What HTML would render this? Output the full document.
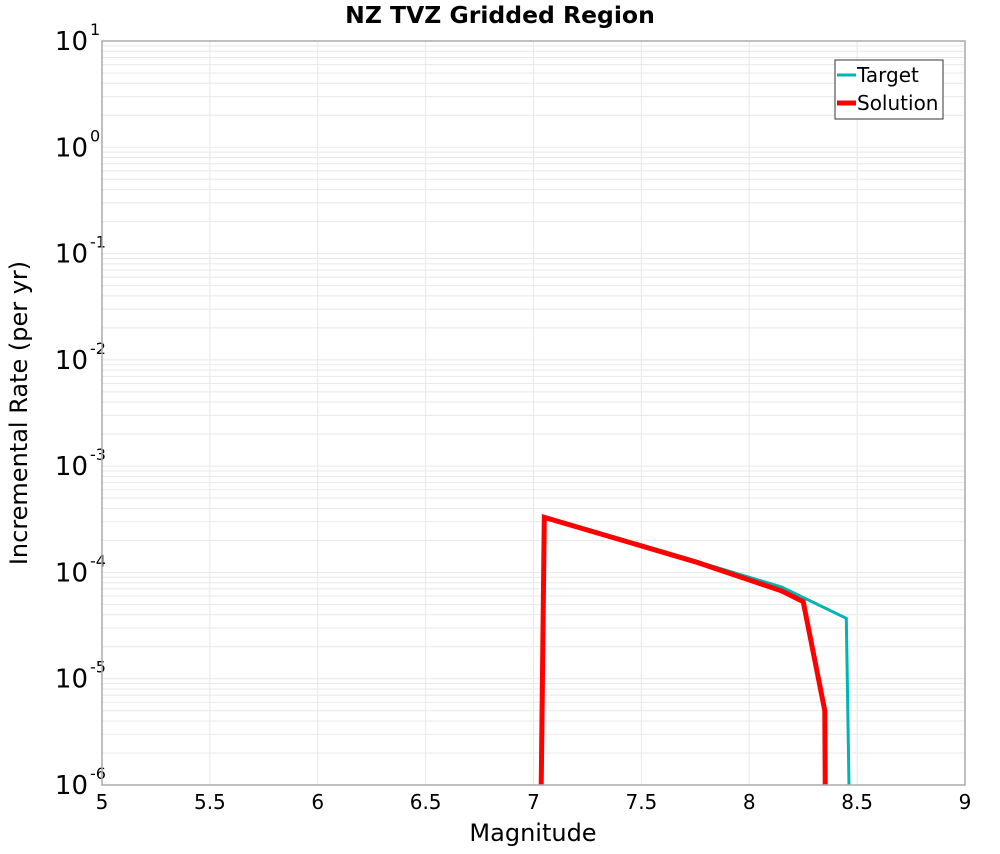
<!DOCTYPE html>
<html><head><meta charset="utf-8"><style>
body{margin:0;background:#fff;font-family:"DejaVu Sans","Liberation Sans",sans-serif}
</style></head><body>
<svg id="chart" width="1000" height="850" xmlns="http://www.w3.org/2000/svg" font-family="DejaVu Sans, Liberation Sans, sans-serif">
<text x="500" y="23" text-anchor="middle" font-size="23.5" font-weight="bold">NZ TVZ Gridded Region</text>
<g id="grid"></g>
<g id="ticks"></g>
<g id="series"></g>
<rect x="102" y="41" width="863" height="744" fill="none" stroke="#aaa" stroke-width="1.5"/>
<text x="533" y="841" text-anchor="middle" font-size="24">Magnitude</text>
<text transform="translate(27,413) rotate(-90)" text-anchor="middle" font-size="24">Incremental Rate (per yr)</text>
<g>
<rect x="835" y="60" width="108" height="59" fill="#fff" stroke="#333" stroke-width="1"/>
<line x1="837" y1="75" x2="856" y2="75" stroke="#00b4b4" stroke-width="3"/>
<text x="857" y="82" font-size="20">Target</text>
<line x1="837" y1="103" x2="856" y2="103" stroke="#ff0000" stroke-width="5"/>
<text x="857" y="110" font-size="20">Solution</text>
</g>
</svg>
<script>
const xTicks=[5,5.5,6,6.5,7,7.5,8,8.5,9];
const yExps=[1,0,-1,-2,-3,-4,-5,-6];
const targetMag=[7.03,7.05,7.75,8.15,8.45,8.47];
const targetRate=[1e-7,3.3e-4,1.28e-4,7.3e-5,3.7e-5,1e-7];
const solutionMag=[7.03,7.05,7.75,8.15,8.25,8.35,8.355];
const solutionRate=[1e-7,3.3e-4,1.26e-4,6.7e-5,5.3e-5,5.0e-6,1e-7];
const X0=102,X1=965,Y0=41,Y1=785;
const sx=m=>X0+(m-5)/(9-5)*(X1-X0);
const sy=v=>Y1-(Math.log10(v)+6)/7*(Y1-Y0);
const NS="http://www.w3.org/2000/svg";
function mk(t,a,p){const e=document.createElementNS(NS,t);for(const k in a)e.setAttribute(k,a[k]);p.appendChild(e);return e;}
const grid=document.getElementById('grid'),ticks=document.getElementById('ticks'),series=document.getElementById('series');
for(let e=-6;e<1;e++)for(let k=1;k<10;k++){const y=sy(k*Math.pow(10,e));
const l=mk('line',{x1:X0,x2:X1,y1:y,y2:y,stroke:'#e8e8e8','stroke-width':1},grid);

}
xTicks.forEach(m=>{const x=sx(m);
const l=mk('line',{x1:x,x2:x,y1:Y0,y2:Y1,stroke:'#e8e8e8','stroke-width':1},grid);


const t=mk('text',{x:x,y:809,'text-anchor':'middle','font-size':20},ticks);t.textContent=String(m);

});
yExps.forEach(e=>{const y=sy(Math.pow(10,e));
const t=mk('text',{x:88,y:y+9,'text-anchor':'end','font-size':26},ticks);t.textContent='10';


const s=mk('text',{x:90,y:y-6,'font-size':16},ticks);s.textContent=String(e);

});
function path(ms,rs,col,w,name){const d=ms.map((m,i)=>(i?'L':'M')+sx(m).toFixed(1)+','+sy(rs[i]).toFixed(1)).join(' ');
const p=mk('path',{d:d,fill:'none',stroke:col,'stroke-width':w,'stroke-linejoin':'miter','clip-path':'url(#clip)'},series);

}
const defs=mk('defs',{},document.getElementById('chart'));
const cp=mk('clipPath',{id:'clip'},defs);mk('rect',{x:X0,y:Y0,width:X1-X0,height:Y1-Y0},cp);
path(targetMag,targetRate,'#00b4b4',3,'target-line');
path(solutionMag,solutionRate,'#ff0000',5,'solution-line');
</script>
</body></html>
